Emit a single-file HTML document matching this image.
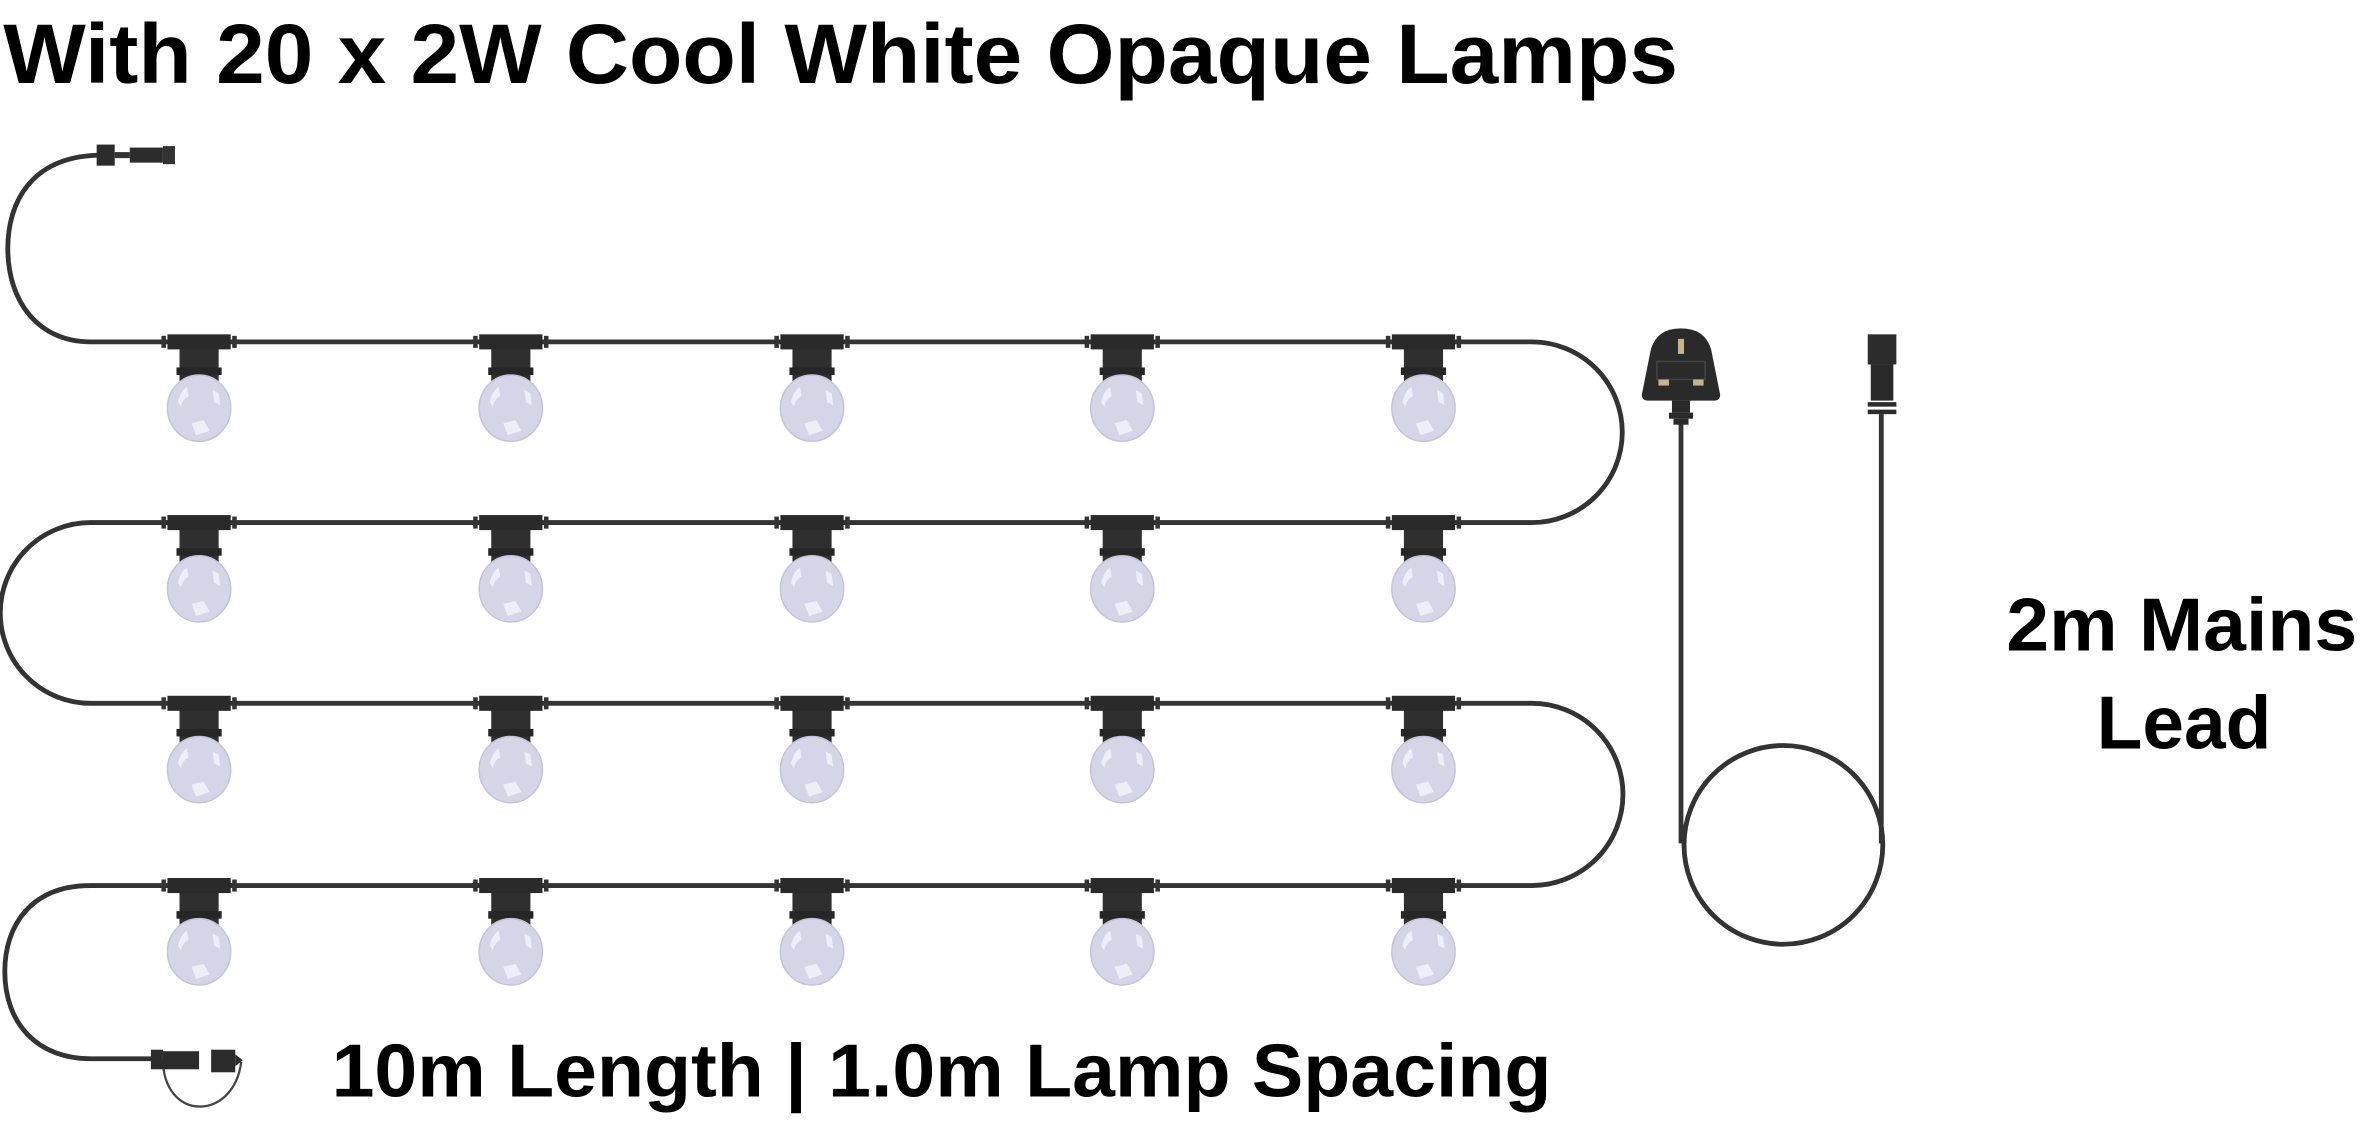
<!DOCTYPE html>
<html><head><meta charset="utf-8"><style>
html,body{margin:0;padding:0;background:#fff;}
svg{display:block;}
text{font-family:"Liberation Sans",sans-serif;font-weight:bold;fill:#000;}
</style></head><body>
<svg width="2362" height="1125" viewBox="0 0 1568 747" xmlns="http://www.w3.org/2000/svg">
<defs>
<g id="lamp">
  <rect x="-13" y="0" width="26" height="32" fill="#2f2f2f"/>
  <rect x="-15" y="17" width="30" height="5" fill="#262626"/>
  <rect x="-21" y="-5" width="42" height="10" fill="#2a2a2a"/>
  <rect x="-25" y="-4" width="3" height="8" fill="#333"/>
  <rect x="22" y="-4" width="3" height="8" fill="#333"/>
  <ellipse cx="0" cy="44" rx="21" ry="22" fill="#d5d5e8" stroke="#c4c4d8" stroke-width="1"/>
  <path d="M-14 40 q2 -8 6 -10 l1 6 q-4 2 -5 7z" fill="#eeeef8"/>
  <path d="M9 32 l4 2 l1 8 l-4 -2z" fill="#eeeef8"/>
  <path d="M-5 54 l8 -2 l4 7 l-9 3z" fill="#eeeef8"/>
</g>
</defs>

<text x="2" y="55" font-size="56" textLength="1112" lengthAdjust="spacingAndGlyphs">With 20 x 2W Cool White Opaque Lamps</text>

<g fill="none" stroke="#333" stroke-width="3.2">
  <path d="M68 103 C 20 103, 5 135, 5 165 C 5 200, 25 227, 60 227 H 1017 A 60 60 0 0 1 1017 347 H 60 A 60 60 0 0 0 60 467 H 1017 A 60.5 60.5 0 0 1 1017 588 H 60 C 20 588, 3 615, 3 645 C 3 680, 25 703, 60 703 H 105"/>
  <path d="M1116 280 V 560"/>
  <path d="M1249 275 V 560"/>
  <ellipse cx="1184" cy="561" rx="66" ry="66"/>
  <path d="M108 703 C 108 745, 155 745, 160 705" stroke-width="1.5" stroke="#444"/>
</g>

<!-- start connector -->
<rect x="64" y="96" width="12" height="14" fill="#2c2c2c"/>
<rect x="76" y="101" width="10" height="4" fill="#333"/>
<rect x="86" y="98" width="22" height="10" fill="#2c2c2c"/>
<rect x="108" y="97" width="8" height="12" fill="#333"/>
<!-- end connector -->
<rect x="100" y="697" width="8" height="13" fill="#2c2c2c"/>
<rect x="108" y="698" width="24" height="12" fill="#2c2c2c"/>
<rect x="140" y="697" width="16" height="15" fill="#2c2c2c"/>
<path d="M156 700 l5 4 l-5 4z" fill="#2c2c2c"/>

<g>
<use href="#lamp" x="132" y="227"/><use href="#lamp" x="339" y="227"/><use href="#lamp" x="539" y="227"/><use href="#lamp" x="745" y="227"/><use href="#lamp" x="945" y="227"/>
<use href="#lamp" x="132" y="347"/><use href="#lamp" x="339" y="347"/><use href="#lamp" x="539" y="347"/><use href="#lamp" x="745" y="347"/><use href="#lamp" x="945" y="347"/>
<use href="#lamp" x="132" y="467"/><use href="#lamp" x="339" y="467"/><use href="#lamp" x="539" y="467"/><use href="#lamp" x="745" y="467"/><use href="#lamp" x="945" y="467"/>
<use href="#lamp" x="132" y="588"/><use href="#lamp" x="339" y="588"/><use href="#lamp" x="539" y="588"/><use href="#lamp" x="745" y="588"/><use href="#lamp" x="945" y="588"/>
</g>

<!-- plug -->
<path d="M1090 262 L1096 232 Q1100 218 1116 218 Q1132 218 1136 232 L1142 262 Q1142 266 1138 266 H1094 Q1090 266 1090 262z" fill="#2a2a2a"/>
<rect x="1100" y="240" width="32" height="12" fill="none" stroke="#444" stroke-width="1"/>
<rect x="1114" y="225" width="4" height="10" fill="#c8b48a"/>
<rect x="1101" y="252" width="7" height="4" fill="#c8b48a"/>
<rect x="1124" y="252" width="7" height="4" fill="#c8b48a"/>
<rect x="1110" y="266" width="12" height="8" fill="#2a2a2a"/>
<rect x="1108" y="274" width="16" height="4" fill="#2a2a2a"/>
<rect x="1111" y="278" width="10" height="4" fill="#2a2a2a"/>
<!-- mains connector -->
<rect x="1240" y="222" width="19" height="20" fill="#2c2c2c"/>
<rect x="1242" y="242" width="15" height="24" fill="#2a2a2a"/>
<rect x="1240" y="267" width="19" height="3" fill="#2c2c2c"/>
<rect x="1240" y="272" width="19" height="3" fill="#2c2c2c"/>

<text x="1332" y="432" font-size="50" textLength="233" lengthAdjust="spacingAndGlyphs">2m Mains</text>
<text x="1392" y="497" font-size="50" textLength="116" lengthAdjust="spacingAndGlyphs">Lead</text>
<text x="220" y="728" font-size="50" textLength="810" lengthAdjust="spacingAndGlyphs">10m Length | 1.0m Lamp Spacing</text>
</svg>
</body></html>
